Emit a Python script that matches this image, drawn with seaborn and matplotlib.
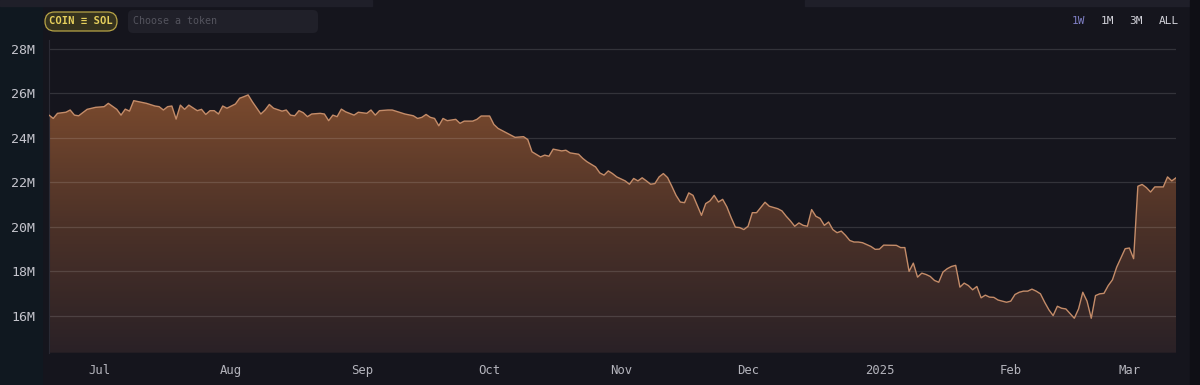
import matplotlib
matplotlib.use("Agg")
import matplotlib.pyplot as plt
import matplotlib.dates as mdates
from matplotlib.colors import LinearSegmentedColormap
from matplotlib.patches import Rectangle, FancyBboxPatch, PathPatch
from matplotlib.ticker import FuncFormatter
import numpy as np
import pandas as pd
import seaborn as sns

# values in millions
dates = [
    "2024-06-19", "2024-06-20", "2024-06-21", "2024-06-23", "2024-06-24", "2024-06-25", "2024-06-26", "2024-06-28", "2024-06-30",
    "2024-07-02", "2024-07-03", "2024-07-05", "2024-07-06", "2024-07-07", "2024-07-08", "2024-07-09", "2024-07-12", "2024-07-14",
    "2024-07-15", "2024-07-16", "2024-07-17", "2024-07-18", "2024-07-19", "2024-07-20", "2024-07-21", "2024-07-22", "2024-07-24",
    "2024-07-25", "2024-07-26", "2024-07-27", "2024-07-28", "2024-07-29", "2024-07-30", "2024-07-31",
    "2024-08-02", "2024-08-03", "2024-08-04", "2024-08-05", "2024-08-06", "2024-08-08", "2024-08-09", "2024-08-10", "2024-08-11",
    "2024-08-13", "2024-08-14", "2024-08-15", "2024-08-16", "2024-08-17", "2024-08-18", "2024-08-19", "2024-08-20", "2024-08-22",
    "2024-08-23", "2024-08-24", "2024-08-25", "2024-08-26", "2024-08-27", "2024-08-28", "2024-08-30", "2024-08-31",
    "2024-09-02", "2024-09-03", "2024-09-04", "2024-09-05", "2024-09-07", "2024-09-08", "2024-09-10", "2024-09-11", "2024-09-13",
    "2024-09-14", "2024-09-15", "2024-09-16", "2024-09-17", "2024-09-18", "2024-09-19", "2024-09-20", "2024-09-21", "2024-09-23",
    "2024-09-24", "2024-09-25", "2024-09-27", "2024-09-28", "2024-09-29",
    "2024-10-01", "2024-10-02", "2024-10-03", "2024-10-05", "2024-10-06", "2024-10-07", "2024-10-09", "2024-10-10", "2024-10-11",
    "2024-10-13", "2024-10-14", "2024-10-15", "2024-10-16", "2024-10-18", "2024-10-19", "2024-10-20", "2024-10-22", "2024-10-23",
    "2024-10-24", "2024-10-26", "2024-10-27", "2024-10-28", "2024-10-29", "2024-10-30", "2024-10-31",
    "2024-11-02", "2024-11-03", "2024-11-04", "2024-11-05", "2024-11-06", "2024-11-07", "2024-11-08", "2024-11-09", "2024-11-10",
    "2024-11-11", "2024-11-12", "2024-11-13", "2024-11-14", "2024-11-15", "2024-11-16", "2024-11-17", "2024-11-18", "2024-11-19",
    "2024-11-20", "2024-11-21", "2024-11-22", "2024-11-23", "2024-11-24", "2024-11-25", "2024-11-26", "2024-11-27", "2024-11-28",
    "2024-11-29", "2024-11-30",
    "2024-12-01", "2024-12-02", "2024-12-03", "2024-12-05", "2024-12-06", "2024-12-08", "2024-12-09", "2024-12-10", "2024-12-11",
    "2024-12-12", "2024-12-13", "2024-12-14", "2024-12-15", "2024-12-16", "2024-12-17", "2024-12-18", "2024-12-19", "2024-12-20",
    "2024-12-21", "2024-12-22", "2024-12-23", "2024-12-24", "2024-12-25", "2024-12-26", "2024-12-27", "2024-12-28", "2024-12-30",
    "2024-12-31",
    "2025-01-01", "2025-01-02", "2025-01-04", "2025-01-05", "2025-01-06", "2025-01-07", "2025-01-08", "2025-01-09", "2025-01-10",
    "2025-01-11", "2025-01-12", "2025-01-13", "2025-01-14", "2025-01-15", "2025-01-16", "2025-01-17", "2025-01-18", "2025-01-19",
    "2025-01-20", "2025-01-21", "2025-01-22", "2025-01-23", "2025-01-24", "2025-01-25", "2025-01-26", "2025-01-27", "2025-01-28",
    "2025-01-29", "2025-01-31",
    "2025-02-01", "2025-02-02", "2025-02-03", "2025-02-04", "2025-02-05", "2025-02-06", "2025-02-07", "2025-02-08", "2025-02-09",
    "2025-02-10", "2025-02-11", "2025-02-12", "2025-02-13", "2025-02-14", "2025-02-16", "2025-02-17", "2025-02-18", "2025-02-19",
    "2025-02-20", "2025-02-21", "2025-02-22", "2025-02-23", "2025-02-24", "2025-02-25", "2025-02-26", "2025-02-27", "2025-02-28",
    "2025-03-01", "2025-03-02", "2025-03-03", "2025-03-04", "2025-03-05", "2025-03-06", "2025-03-07", "2025-03-08", "2025-03-09",
    "2025-03-10", "2025-03-11", "2025-03-12",
]
values = [
    25.02, 24.87, 25.10, 25.15, 25.25, 25.02, 24.99, 25.28, 25.37,
    25.40, 25.55, 25.28, 25.02, 25.29, 25.20, 25.67, 25.55, 25.43,
    25.40, 25.25, 25.40, 25.43, 24.84, 25.47, 25.28, 25.47, 25.22,
    25.28, 25.05, 25.22, 25.22, 25.07, 25.43, 25.33,
    25.52, 25.78, 25.85, 25.93, 25.62, 25.07, 25.25, 25.50, 25.33,
    25.20, 25.25, 25.02, 24.99, 25.22, 25.13, 24.95, 25.07, 25.10,
    25.07, 24.77, 25.02, 24.95, 25.29, 25.17, 25.02, 25.15,
    25.10, 25.25, 25.02, 25.22, 25.25, 25.25, 25.13, 25.07, 24.99,
    24.87, 24.92, 25.05, 24.92, 24.87, 24.54, 24.87, 24.77, 24.83,
    24.65, 24.75, 24.75, 24.83, 24.98,
    24.98, 24.60, 24.42, 24.22, 24.12, 24.02, 24.05, 23.92, 23.37,
    23.14, 23.22, 23.17, 23.49, 23.41, 23.44, 23.32, 23.26, 23.07,
    22.92, 22.69, 22.42, 22.32, 22.51, 22.39, 22.24,
    22.06, 21.91, 22.17, 22.06, 22.20, 22.06, 21.91, 21.94, 22.24,
    22.39, 22.21, 21.82, 21.41, 21.11, 21.08, 21.52, 21.41, 20.96,
    20.51, 21.04, 21.16, 21.41, 21.11, 21.23, 20.89, 20.41, 19.98,
    19.96, 19.87,
    20.02, 20.63, 20.63, 21.10, 20.92, 20.81, 20.71, 20.47, 20.26,
    20.02, 20.17, 20.06, 20.02, 20.77, 20.47, 20.37, 20.06, 20.21,
    19.87, 19.73, 19.80, 19.61, 19.38, 19.31, 19.31, 19.28, 19.11,
    18.98,
    18.99, 19.17, 19.16, 19.16, 19.06, 19.06, 17.99, 18.36, 17.73,
    17.91, 17.85, 17.76, 17.58, 17.50, 17.96, 18.11, 18.21, 18.26,
    17.28, 17.46, 17.35, 17.16, 17.31, 16.80, 16.92, 16.83, 16.82,
    16.70, 16.60,
    16.65, 16.95, 17.05, 17.10, 17.10, 17.19, 17.10, 16.98, 16.60,
    16.26, 16.00, 16.42, 16.33, 16.30, 15.88, 16.30, 17.05, 16.65,
    15.88, 16.90, 16.98, 17.00, 17.35, 17.61, 18.18, 18.60, 19.01,
    19.04, 18.56, 21.82, 21.90, 21.76, 21.56, 21.79, 21.79, 21.79,
    22.24, 22.06, 22.20,
]
assert len(dates) == len(values)

y_ticks = [16, 18, 20, 22, 24, 26, 28]
month_ticks = ["2024-07-01", "2024-08-01", "2024-09-01", "2024-10-01", "2024-11-01",
               "2024-12-01", "2025-01-01", "2025-02-01", "2025-03-01"]
month_labels = ["Jul", "Aug", "Sep", "Oct", "Nov", "Dec", "2025", "Feb", "Mar"]
ranges = ["1W", "1M", "3M", "ALL"]

df = pd.DataFrame({"date": pd.to_datetime(dates), "value": values})

BG = "#15151d"
sns.set_style("dark", {"axes.facecolor": BG, "figure.facecolor": BG})
plt.rcParams["font.family"] = ["DejaVu Sans Mono", "DejaVu Sans"]

fig = plt.figure(figsize=(12, 3.85), dpi=100)
ax = fig.add_axes([49 / 1200, 1 - 352.7 / 385, 1127 / 1200, (352.7 - 40) / 385])
px = fig.dpi_scale_trans  # pixel helper: inches * 100


def P(v):
    return v / 100.0


# page decoration (behind everything)
for (rx, ry, rw, rh, col) in [(0, 0, 42, 385, "#101820"),
                              (0, 379, 372, 6, "#1f1f29"),
                              (805, 379, 395, 6, "#1f1f29"),
                              (1190, 0, 10, 385, "#0f0f15")]:
    fig.patches.append(Rectangle((P(rx), P(ry)), P(rw), P(rh), transform=px,
                                 color=col, zorder=-5))

ylo, yhi = 14.33, 28.4
x0 = mdates.date2num(df["date"].iloc[0])
x1 = mdates.date2num(df["date"].iloc[-1])

# gradient area under the line
poly = ax.fill_between(df["date"], df["value"], ylo, color="none", lw=0)
clip = PathPatch(poly.get_paths()[0], transform=ax.transData, fc="none", ec="none")
ax.add_patch(clip)
cmap = LinearSegmentedColormap.from_list("fill", ["#2a2126", "#4d3228", "#7c4b2e"])
grad = np.linspace(0, 1, 256).reshape(-1, 1)
im = ax.imshow(grad, extent=[x0, x1, ylo, 26.2], origin="lower", aspect="auto",
               cmap=cmap, zorder=1)
im.set_clip_path(clip)

sns.lineplot(data=df, x="date", y="value", ax=ax, color="#c48c69", lw=1.0, zorder=3)

for t in y_ticks:
    ax.axhline(t, color="white", alpha=0.13, lw=0.9, zorder=2)

ax.set_xlim(x0, x1)
ax.set_ylim(ylo, yhi)
ax.set_yticks(y_ticks)
ax.yaxis.set_major_formatter(FuncFormatter(lambda v, p: f"{v:.0f}M"))
ax.set_xticks(pd.to_datetime(month_ticks))
ax.set_xticklabels(month_labels)
ax.set_xlabel("")
ax.set_ylabel("")
ax.grid(False)
ax.tick_params(axis="y", colors="#c4c4cc", labelsize=9.5, length=0, pad=10, labelleft=True)
ax.tick_params(axis="x", colors="#b4b4bc", labelsize=8.8, length=0, pad=8, labelbottom=True)
for s in ["top", "right", "bottom"]:
    ax.spines[s].set_visible(False)
ax.spines["left"].set_color("#2a2a34")
ax.spines["left"].set_linewidth(0.8)

# header widgets (pixel coords, y from bottom)
fig.patches.append(FancyBboxPatch((P(45), P(354)), P(72), P(19),
                                  boxstyle=f"round,pad=0,rounding_size={P(9.5)}", transform=px,
                                  fc="#35321e", ec="#b7a446", lw=0.9))
fig.text(81 / 1200, 1 - 21.5 / 385, "COIN ≡ SOL", color="#e6cf5c", fontsize=7.6,
         fontweight="bold", ha="center", va="center")
fig.patches.append(FancyBboxPatch((P(128), P(352)), P(190), P(23),
                                  boxstyle=f"round,pad=0,rounding_size={P(5)}", transform=px,
                                  fc="#202029", ec="none"))
fig.text(133 / 1200, 1 - 21.5 / 385, "Choose a token", color="#54545e", fontsize=7.2,
         ha="left", va="center")
for lab, xp in zip(ranges, [1078, 1107, 1136, 1169]):
    fig.text(xp / 1200, 1 - 21.5 / 385, lab, fontsize=8, ha="center", va="center",
             color="#7f7fc4" if lab == "1W" else "#d2d2da")

plt.savefig("out.png", dpi=100, facecolor=BG)
